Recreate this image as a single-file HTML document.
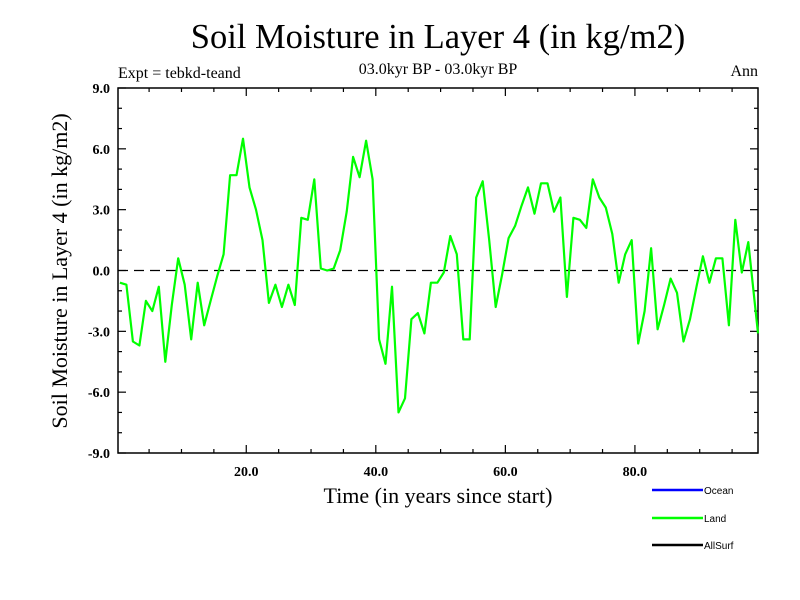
<!DOCTYPE html>
<html><head><meta charset="utf-8"><style>
body{margin:0;background:#fff}
svg{display:block}
text{font-family:"Liberation Serif",serif;fill:#000}
</style></head><body>
<svg id="chart" width="800" height="600" viewBox="0 0 800 600">
<text x="438" y="48" font-size="34.5" text-anchor="middle">Soil Moisture in Layer 4 (in kg/m2)</text>
<text x="118" y="78" font-size="16">Expt = tebkd-teand</text>
<text x="438" y="74" font-size="16" text-anchor="middle">03.0kyr BP - 03.0kyr BP</text>
<text x="758" y="76" font-size="16" text-anchor="end">Ann</text>
<text x="438" y="503" font-size="22" text-anchor="middle">Time (in years since start)</text>
<text transform="translate(67,271) rotate(-90)" font-size="22" text-anchor="middle">Soil Moisture in Layer 4 (in kg/m2)</text>
<g id="axes"></g>
<g id="series"></g>
<g>
<line x1="652" y1="490" x2="703" y2="490" stroke="#0000ff" stroke-width="2.5"/>
<text x="704" y="494" font-size="10" style="font-family:'Liberation Sans',sans-serif">Ocean</text>
<line x1="652" y1="518" x2="703" y2="518" stroke="#00ff00" stroke-width="2.5"/>
<text x="704" y="522" font-size="10" style="font-family:'Liberation Sans',sans-serif">Land</text>
<line x1="652" y1="545" x2="703" y2="545" stroke="#000" stroke-width="2.5"/>
<text x="704" y="549" font-size="10" style="font-family:'Liberation Sans',sans-serif">AllSurf</text>
</g>
</svg>
<script>
const landValues=[-0.6,-0.7,-3.5,-3.7,-1.5,-2.0,-0.8,-4.5,-1.7,0.6,
-0.7,-3.4,-0.6,-2.7,-1.5,-0.3,0.8,4.7,4.7,6.5,
4.1,3.0,1.5,-1.6,-0.7,-1.8,-0.7,-1.7,2.6,2.5,
4.5,0.1,0.0,0.1,1.0,2.9,5.6,4.6,6.4,4.5,
-3.4,-4.6,-0.8,-7.0,-6.3,-2.4,-2.1,-3.1,-0.6,-0.6,
-0.1,1.7,0.8,-3.4,-3.4,3.6,4.4,1.5,-1.8,-0.2,
1.6,2.2,3.2,4.1,2.8,4.3,4.3,2.9,3.6,-1.3,
2.6,2.5,2.1,4.5,3.6,3.1,1.8,-0.6,0.8,1.5,
-3.6,-2.0,1.1,-2.9,-1.7,-0.4,-1.1,-3.5,-2.4,-0.8,
0.7,-0.6,0.6,0.6,-2.7,2.5,-0.1,1.4,-3.1];
const yTickLabels=["-9.0","-6.0","-3.0","0.0","3.0","6.0","9.0"];
const xTickLabels=["20.0","40.0","60.0","80.0"];
const years=landValues.map((v,i)=>i===landValues.length-1?99:i+0.5);
const X0=118,X1=758,Y0=453,Y1=88,xmin=0.2,xmax=99,ymin=-9,ymax=9;
const sx=t=>X0+(t-xmin)/(xmax-xmin)*(X1-X0);
const sy=v=>Y0-(v-ymin)/(ymax-ymin)*(Y0-Y1);
const NS="http://www.w3.org/2000/svg";
function mk(tag,attrs,parent){const e=document.createElementNS(NS,tag);for(const k in attrs)e.setAttribute(k,attrs[k]);parent.appendChild(e);return e;}
const axes=document.getElementById('axes');
const frame=mk('rect',{x:X0,y:Y1,width:X1-X0,height:Y0-Y1,fill:'none',stroke:'#000','stroke-width':1.5},axes);


for(let v=-9;v<=9;v++){
  const y=sy(v),major=v%3===0,L=major?8:4;
  const t1=mk('line',{x1:X0,y1:y,x2:X0+L,y2:y,stroke:'#000','stroke-width':1.2},axes);
  
  
  const t2=mk('line',{x1:X1,y1:y,x2:X1-L,y2:y,stroke:'#000','stroke-width':1.2},axes);
  
  
}
yTickLabels.forEach(s=>{
  const tx=mk('text',{x:X0-8,y:sy(parseFloat(s))+5,'font-size':14,'font-weight':'bold','text-anchor':'end'},axes);
  tx.textContent=s;
  
  
});
for(let t=5;t<xmax;t+=5){
  const x=sx(t),L=t%20===0?8:4;
  const a=mk('line',{x1:x,y1:Y0,x2:x,y2:Y0-L,stroke:'#000','stroke-width':1.2},axes);
  
  
  const b=mk('line',{x1:x,y1:Y1,x2:x,y2:Y1+L,stroke:'#000','stroke-width':1.2},axes);
  
  
}
xTickLabels.forEach(s=>{
  const tx=mk('text',{x:sx(parseFloat(s)),y:Y0+23,'font-size':14,'font-weight':'bold','text-anchor':'middle'},axes);
  tx.textContent=s;
  
  
});
const zl=mk('line',{x1:X0,y1:sy(0),x2:X1,y2:sy(0),stroke:'#000','stroke-width':1.2,'stroke-dasharray':'10,6'},axes);


const series=document.getElementById('series');
const pl=mk('polyline',{points:landValues.map((v,i)=>sx(years[i]).toFixed(1)+','+sy(v).toFixed(1)).join(' '),fill:'none',stroke:'#00ff00','stroke-width':2.2,'stroke-linejoin':'round'},series);


</script>
</body></html>
